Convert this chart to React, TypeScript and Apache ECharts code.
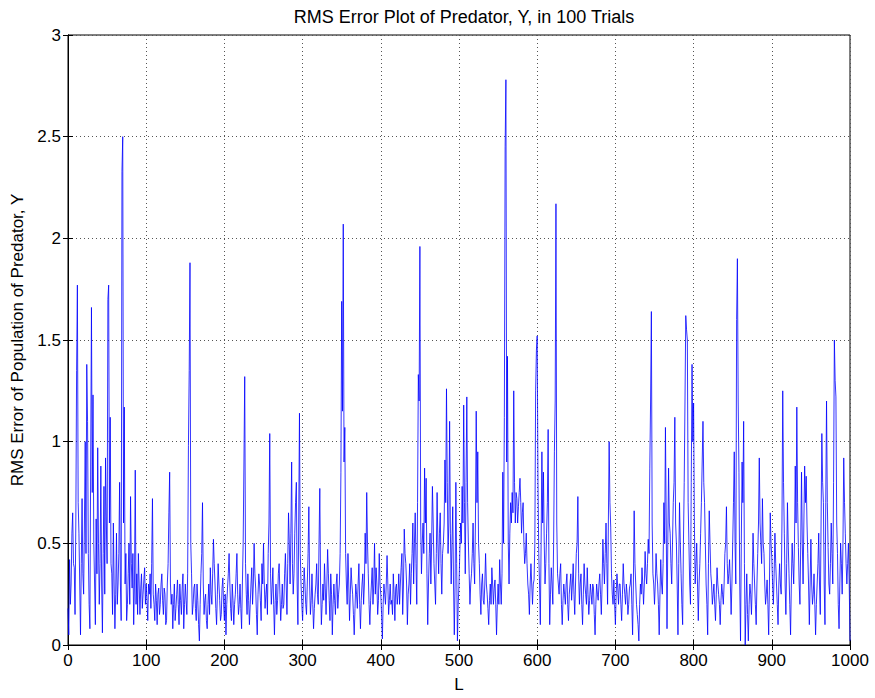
import React, { useEffect, useRef } from "react";
import * as echarts from "echarts";

const titleText = "RMS Error Plot of Predator, Y, in 100 Trials";
const xName = "L";
const yName = "RMS Error of Population of Predator, Y";

// RMS error value for every L = 0..1000 (one row = 50 values of L)
const rmsError: number[] = [
  // 0-49
  0.18, 0.05, 0.42, 0.2, 0.3, 0.55, 0.65, 0.4, 0.38, 0.15, 0.6, 1.35, 1.77, 0.7, 0.55, 0.3, 0.05, 0.4, 0.72, 0.35, 0.25, 0.6, 1.0, 0.45, 1.38, 1.1, 0.45, 0.2, 0.08, 0.9, 1.66, 0.75, 1.23, 0.5, 0.3, 0.1, 0.62, 0.35, 0.97, 0.5, 0.2, 0.4, 0.88, 0.3, 0.06, 0.45, 0.78, 0.25, 0.92, 0.6,
  // 50-99
  0.4, 1.7, 1.77, 0.6, 1.12, 0.4, 0.35, 0.15, 0.6, 0.3, 0.08, 0.25, 0.55, 0.2, 0.3, 0.45, 0.8, 0.3, 0.12, 2.33, 2.5, 0.6, 1.17, 0.3, 0.45, 0.12, 0.2, 0.35, 0.5, 0.2, 0.73, 0.4, 0.28, 0.45, 0.1, 0.3, 0.86, 0.2, 0.35, 0.15, 0.45, 0.3, 0.15, 0.28, 0.35, 0.18, 0.25, 0.32, 0.38, 0.2,
  // 100-149
  0.3, 0.22, 0.12, 0.3, 0.25, 0.35, 0.18, 0.4, 0.72, 0.25, 0.2, 0.12, 0.3, 0.22, 0.1, 0.25, 0.28, 0.15, 0.2, 0.3, 0.35, 0.22, 0.15, 0.28, 0.25, 0.1, 0.12, 0.3, 0.4, 0.65, 0.85, 0.3, 0.2, 0.25, 0.08, 0.2, 0.3, 0.12, 0.18, 0.25, 0.32, 0.2, 0.1, 0.3, 0.22, 0.15, 0.28, 0.35, 0.08, 0.2,
  // 150-199
  0.3, 0.22, 0.15, 0.35, 0.98, 1.35, 1.88, 0.5, 0.35, 0.15, 0.2, 0.28, 0.3, 0.18, 0.12, 0.3, 0.22, 0.1, 0.02, 0.2, 0.35, 0.45, 0.7, 0.3, 0.15, 0.22, 0.25, 0.12, 0.08, 0.2, 0.3, 0.15, 0.38, 0.25, 0.2, 0.35, 0.52, 0.4, 0.3, 0.18, 0.1, 0.25, 0.4, 0.3, 0.22, 0.12, 0.15, 0.28, 0.33, 0.2,
  // 200-249
  0.12, 0.25, 0.05, 0.2, 0.28, 0.35, 0.45, 0.3, 0.18, 0.12, 0.3, 0.22, 0.1, 0.2, 0.25, 0.35, 0.45, 0.25, 0.15, 0.2, 0.3, 0.18, 0.08, 0.3, 0.5, 0.9, 1.32, 0.4, 0.25, 0.15, 0.35, 0.22, 0.1, 0.2, 0.3, 0.38, 0.2, 0.3, 0.5, 0.35, 0.28, 0.15, 0.05, 0.25, 0.35, 0.3, 0.22, 0.12, 0.4, 0.3,
  // 250-299
  0.5, 0.3, 0.18, 0.25, 0.3, 0.15, 0.45, 0.6, 1.04, 0.35, 0.2, 0.28, 0.38, 0.2, 0.05, 0.22, 0.3, 0.15, 0.22, 0.35, 0.4, 0.25, 0.12, 0.2, 0.3, 0.18, 0.2, 0.35, 0.45, 0.3, 0.15, 0.4, 0.65, 0.5, 0.3, 0.55, 0.9, 0.4, 0.25, 0.35, 0.55, 0.7, 0.8, 0.3, 0.1, 0.6, 1.14, 0.45, 0.3, 0.2,
  // 300-349
  0.12, 0.25, 0.38, 0.3, 0.2, 0.15, 0.3, 0.45, 0.68, 0.3, 0.15, 0.22, 0.35, 0.2, 0.08, 0.18, 0.25, 0.3, 0.4, 0.25, 0.2, 0.5, 0.77, 0.3, 0.1, 0.2, 0.3, 0.22, 0.4, 0.28, 0.15, 0.3, 0.47, 0.35, 0.22, 0.12, 0.35, 0.25, 0.05, 0.2, 0.3, 0.22, 0.15, 0.3, 0.35, 0.18, 0.25, 0.3, 0.45, 0.85,
  // 350-399
  1.69, 1.15, 2.07, 0.9, 1.07, 0.45, 0.3, 0.2, 0.45, 0.3, 0.12, 0.25, 0.38, 0.3, 0.25, 0.15, 0.05, 0.18, 0.3, 0.25, 0.18, 0.3, 0.4, 0.2, 0.08, 0.22, 0.3, 0.35, 0.2, 0.3, 0.55, 0.4, 0.75, 0.5, 0.35, 0.2, 0.1, 0.22, 0.3, 0.38, 0.2, 0.3, 0.5, 0.25, 0.38, 0.3, 0.15, 0.22, 0.45, 0.3,
  // 400-449
  0.25, 0.15, 0.03, 0.2, 0.3, 0.25, 0.2, 0.3, 0.44, 0.3, 0.15, 0.22, 0.3, 0.2, 0.22, 0.15, 0.35, 0.25, 0.12, 0.28, 0.3, 0.2, 0.25, 0.35, 0.2, 0.3, 0.38, 0.45, 0.15, 0.3, 0.57, 0.45, 0.4, 0.3, 0.1, 0.25, 0.3, 0.4, 0.2, 0.35, 0.45, 0.6, 0.3, 0.5, 0.65, 0.4, 0.2, 0.7, 1.33, 1.2,
  // 450-499
  1.96, 0.6, 0.35, 0.5, 0.6, 0.45, 0.87, 0.6, 0.82, 0.35, 0.1, 0.3, 0.45, 0.55, 0.3, 0.5, 0.78, 0.6, 0.4, 0.3, 0.2, 0.45, 0.75, 0.5, 0.35, 0.55, 0.65, 0.4, 0.25, 0.45, 0.5, 0.6, 0.91, 0.7, 1.26, 0.8, 0.45, 0.6, 1.1, 0.55, 0.3, 0.5, 0.68, 0.3, 0.05, 0.3, 0.8, 0.4, 0.02, 0.2,
  // 500-549
  0.3, 0.45, 0.6, 0.5, 0.78, 0.6, 1.18, 0.7, 0.35, 0.8, 1.22, 0.7, 0.5, 0.35, 0.2, 0.3, 0.35, 0.45, 0.6, 0.4, 0.3, 0.6, 1.15, 0.7, 0.95, 0.5, 0.4, 0.25, 0.15, 0.3, 0.35, 0.22, 0.2, 0.3, 0.45, 0.3, 0.25, 0.18, 0.1, 0.22, 0.3, 0.2, 0.38, 0.3, 0.2, 0.28, 0.32, 0.2, 0.05, 0.2,
  // 550-599
  0.3, 0.2, 0.42, 0.3, 0.2, 0.35, 0.85, 0.5, 1.12, 2.45, 2.78, 0.9, 1.42, 0.5, 0.3, 0.55, 0.7, 0.6, 0.75, 0.65, 1.25, 0.8, 0.6, 0.75, 0.72, 0.6, 0.68, 0.75, 0.82, 0.7, 0.55, 0.65, 0.7, 0.5, 0.4, 0.45, 0.55, 0.4, 0.3, 0.25, 0.15, 0.3, 0.4, 0.3, 0.2, 0.3, 0.32, 0.5, 1.25, 1.45,
  // 600-649
  1.52, 0.8, 0.45, 0.3, 0.1, 0.5, 0.95, 0.6, 0.85, 0.5, 0.3, 0.4, 0.55, 0.7, 1.06, 0.4, 0.1, 0.25, 0.38, 0.3, 0.2, 0.5, 0.95, 1.2, 2.17, 0.6, 0.35, 0.3, 0.25, 0.35, 0.4, 0.2, 0.1, 0.22, 0.3, 0.25, 0.2, 0.3, 0.35, 0.2, 0.12, 0.25, 0.3, 0.35, 0.22, 0.3, 0.4, 0.25, 0.15, 0.3,
  // 650-699
  0.45, 0.5, 0.73, 0.35, 0.2, 0.3, 0.35, 0.2, 0.1, 0.25, 0.4, 0.3, 0.25, 0.2, 0.38, 0.25, 0.15, 0.22, 0.3, 0.25, 0.2, 0.3, 0.28, 0.15, 0.05, 0.2, 0.3, 0.25, 0.22, 0.3, 0.35, 0.25, 0.15, 0.3, 0.52, 0.4, 0.3, 0.45, 0.6, 0.4, 0.2, 0.6, 1.0, 0.7, 0.58, 0.35, 0.25, 0.2, 0.32, 0.2,
  // 700-749
  0.1, 0.25, 0.35, 0.28, 0.2, 0.3, 0.3, 0.2, 0.12, 0.25, 0.4, 0.3, 0.25, 0.2, 0.3, 0.25, 0.15, 0.2, 0.28, 0.3, 0.35, 0.2, 0.05, 0.3, 0.66, 0.4, 0.3, 0.2, 0.15, 0.1, 0.02, 0.2, 0.3, 0.25, 0.38, 0.3, 0.2, 0.3, 0.46, 0.35, 0.3, 0.4, 0.52, 0.45, 0.87, 1.2, 1.64, 0.6, 0.35, 0.3,
  // 750-799
  0.2, 0.3, 0.45, 0.35, 0.3, 0.2, 0.05, 0.25, 0.42, 0.3, 0.25, 0.4, 0.7, 0.5, 1.07, 0.6, 0.08, 0.5, 0.87, 0.6, 0.55, 0.4, 0.3, 0.5, 0.7, 0.8, 1.12, 0.6, 0.5, 0.3, 0.05, 0.4, 0.7, 0.5, 0.35, 0.2, 0.1, 0.5, 0.8, 1.2, 1.62, 1.55, 1.5, 0.7, 0.5, 0.3, 0.2, 0.8, 1.38, 1.0,
  // 800-849
  1.19, 0.6, 0.3, 0.4, 0.5, 0.3, 0.12, 0.3, 0.4, 0.55, 0.7, 0.9, 1.1, 0.8, 0.7, 0.5, 0.3, 0.2, 0.05, 0.4, 0.66, 0.5, 0.35, 0.3, 0.2, 0.25, 0.3, 0.2, 0.12, 0.25, 0.38, 0.3, 0.25, 0.2, 0.1, 0.22, 0.3, 0.25, 0.2, 0.3, 0.45, 0.5, 0.68, 0.4, 0.3, 0.35, 0.42, 0.3, 0.15, 0.3,
  // 850-899
  0.5, 0.7, 0.95, 0.5, 0.3, 1.6, 1.9, 1.2, 0.85, 0.3, 0.02, 0.5, 0.9, 0.7, 1.1, 0.4, 0.0, 0.2, 0.35, 0.15, 0.02, 0.2, 0.3, 0.25, 0.15, 0.3, 0.55, 0.4, 0.3, 0.2, 0.1, 0.3, 0.45, 0.6, 0.92, 0.6, 0.5, 0.4, 0.72, 0.5, 0.45, 0.3, 0.2, 0.25, 0.32, 0.2, 0.05, 0.3, 0.65, 0.5,
  // 900-949
  0.43, 0.3, 0.2, 0.35, 0.55, 0.4, 0.3, 0.2, 0.1, 0.3, 0.4, 0.3, 0.25, 0.6, 1.25, 0.8, 0.55, 0.3, 0.15, 0.4, 0.7, 0.5, 0.35, 0.2, 0.05, 0.3, 0.5, 0.4, 0.3, 0.5, 0.88, 0.6, 1.17, 0.7, 0.48, 0.3, 0.2, 0.5, 0.85, 0.5, 0.3, 0.6, 0.88, 0.7, 0.83, 0.6, 0.45, 0.3, 0.1, 0.3,
  // 950-999
  0.52, 0.3, 0.2, 0.25, 0.35, 0.2, 0.05, 0.2, 0.3, 0.4, 0.55, 0.3, 0.15, 0.6, 1.04, 0.8, 0.7, 0.3, 0.1, 0.7, 1.2, 0.7, 0.48, 0.3, 0.25, 0.4, 0.6, 0.45, 0.3, 0.8, 1.5, 1.3, 1.22, 0.6, 0.45, 0.2, 0.08, 0.3, 0.5, 0.4, 0.25, 0.5, 0.92, 0.7, 0.55, 0.4, 0.3, 0.4, 0.5, 0.3,
  // 1000
  0.02,
];

const xTicks = [0, 100, 200, 300, 400, 500, 600, 700, 800, 900, 1000];
const yTicks = [0, 0.5, 1, 1.5, 2, 2.5, 3];

const FONT = "Liberation Sans, Arial, sans-serif";

export default function App() {
  const ref = useRef<HTMLDivElement>(null);
  useEffect(() => {
    if (!ref.current) return;
    const chart = echarts.init(ref.current, undefined, { renderer: "svg" });
    const points = rmsError.map((v, i) => [i, v]);
    const xMax = xTicks[xTicks.length - 1];
    const yMax = yTicks[yTicks.length - 1];
    const xInt = xTicks[1] - xTicks[0];
    const yInt = yTicks[1] - yTicks[0];
    const gridLine = { show: true, lineStyle: { color: "#555", type: [1, 3] as any, width: 1 } };
    const tick = { show: true, inside: true, length: 5, lineStyle: { color: "#000" } };
    chart.setOption({
      animation: false,
      backgroundColor: "#fff",
      title: {
        text: titleText,
        left: 459,
        textAlign: "center",
        top: 3,
        textStyle: { fontFamily: FONT, fontSize: 18, fontWeight: "normal", color: "#000" },
      },
      grid: { left: 68, right: 25, top: 35, bottom: 50, show: true, borderColor: "#000", borderWidth: 1, backgroundColor: "#fff" },
      xAxis: [
        {
          type: "value",
          min: 0,
          max: xMax,
          interval: xInt,
          name: xName,
          nameLocation: "middle",
          nameGap: 31,
          nameTextStyle: { fontFamily: FONT, fontSize: 17, color: "#000" },
          axisLine: { show: true, lineStyle: { color: "#000" } },
          axisTick: tick,
          axisLabel: { fontFamily: FONT, fontSize: 17, color: "#000", margin: 7, formatter: (v: number) => String(v) },
          splitLine: gridLine,
        },
        {
          type: "value",
          position: "top",
          min: 0,
          max: xMax,
          interval: xInt,
          axisLine: { show: true, lineStyle: { color: "#000" } },
          axisTick: tick,
          axisLabel: { show: false },
          splitLine: { show: false },
        },
      ],
      yAxis: [
        {
          type: "value",
          min: 0,
          max: yMax,
          interval: yInt,
          name: yName,
          nameLocation: "middle",
          nameGap: 38,
          nameTextStyle: { fontFamily: FONT, fontSize: 17, color: "#000" },
          axisLine: { show: true, lineStyle: { color: "#000" } },
          axisTick: tick,
          axisLabel: { fontFamily: FONT, fontSize: 17, color: "#000", margin: 7 },
          splitLine: gridLine,
        },
        {
          type: "value",
          position: "right",
          min: 0,
          max: yMax,
          interval: yInt,
          axisLine: { show: true, lineStyle: { color: "#000" } },
          axisTick: tick,
          axisLabel: { show: false },
          splitLine: { show: false },
        },
      ],
      series: [
        {
          type: "line",
          data: points,
          showSymbol: false,
          symbol: "none",
          lineStyle: { color: "#0000ff", width: 0.8 },
          itemStyle: { color: "#0000ff" },
        },
      ],
    });
    return () => chart.dispose();
  }, []);
  return (
    <div
      ref={ref}
      style={{ position: "absolute", left: 0, top: 0, width: 875, height: 698 }}
    />
  );
}
